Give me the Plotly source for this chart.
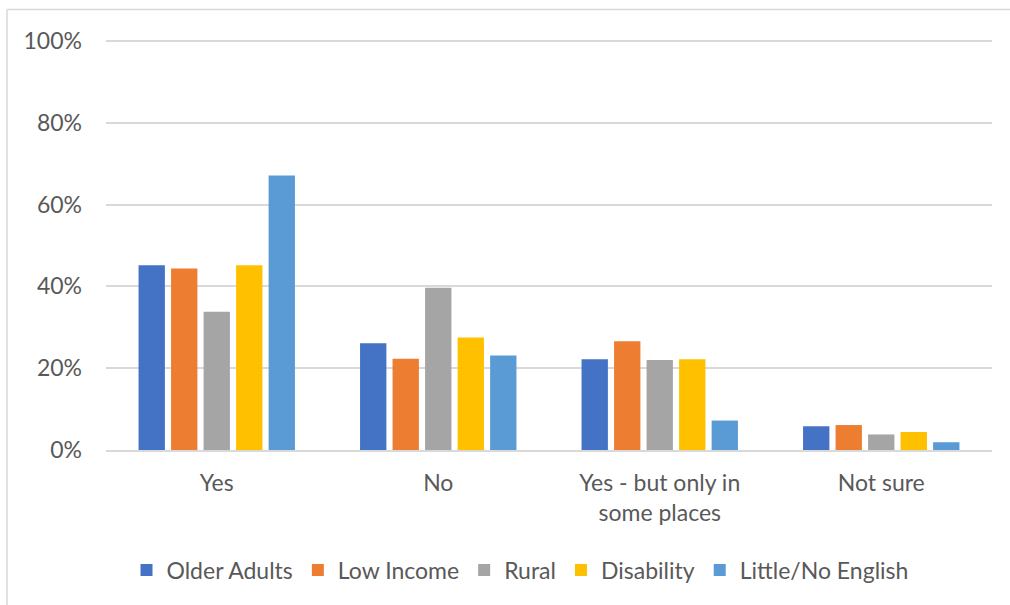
import plotly.graph_objects as go

categories = ["Yes", "No", "Yes - but only in<br>some places", "Not sure"]
series_names = ["Older Adults", "Low Income", "Rural", "Disability", "Little/No English"]
older_adults = [0.452, 0.261, 0.222, 0.058]
low_income = [0.444, 0.223, 0.266, 0.061]
rural = [0.338, 0.397, 0.220, 0.038]
disability = [0.452, 0.275, 0.222, 0.044]
little_no_english = [0.671, 0.231, 0.072, 0.019]
colors = ["#4472C4", "#ED7D31", "#A5A5A5", "#FFC000", "#5B9BD5"]
y_tickvals = [0, 0.2, 0.4, 0.6, 0.8, 1.0]
y_ticktext = ["0%", "20%", "40%", "60%", "80%", "100%"]

W, H = 1010, 605
L, R, T, B = 106, 992, 39, 450
Y0 = 41  # pixel row of the 100% gridline
YMAX = (B - T) / (B - Y0)

def px_x(p):
    return (p - L) / (R - L)

def px_y(p):
    return (B - p) / (B - T)

FONT = "Lato"
TXT = "#595959"
GRID = "#D9D9D9"

fig = go.Figure()
for name, vals, c in zip(series_names, [older_adults, low_income, rural, disability, little_no_english], colors):
    fig.add_trace(go.Bar(x=categories, y=vals, name=name, marker=dict(color=c, line=dict(width=0))))

fig.update_layout(
    width=W, height=H,
    margin=dict(l=L, r=W - R, t=T, b=H - B),
    paper_bgcolor="white", plot_bgcolor="white",
    barmode="group", bargap=0.266, bargroupgap=0.19,
    font=dict(family=FONT, size=23, color=TXT),
    showlegend=True,
    legend=dict(orientation="h", x=px_x(520), xanchor="center", y=px_y(570), yanchor="middle",
                font=dict(family=FONT, size=23, color=TXT), bgcolor="rgba(0,0,0,0)"),
    xaxis=dict(showgrid=False, showline=True, linecolor=GRID, linewidth=1.5, ticks="",
               tickfont=dict(family=FONT, size=23, color=TXT), ticklabelstandoff=12),
    yaxis=dict(range=[0, YMAX], tickvals=y_tickvals, ticktext=y_ticktext, showgrid=True,
               gridcolor=GRID, gridwidth=1.5, zeroline=False, showline=False, ticks="",
               tickfont=dict(family=FONT, size=23, color=TXT), ticklabelstandoff=23),
    shapes=[
        dict(type="line", xref="paper", yref="paper", x0=px_x(7), x1=px_x(1010), y0=px_y(9.5), y1=px_y(9.5),
             line=dict(color=GRID, width=1.5)),
        dict(type="line", xref="paper", yref="paper", x0=px_x(7), x1=px_x(7), y0=px_y(9.5), y1=px_y(605),
             line=dict(color=GRID, width=1.5)),
    ],
)

fig.write_html("out.html")
